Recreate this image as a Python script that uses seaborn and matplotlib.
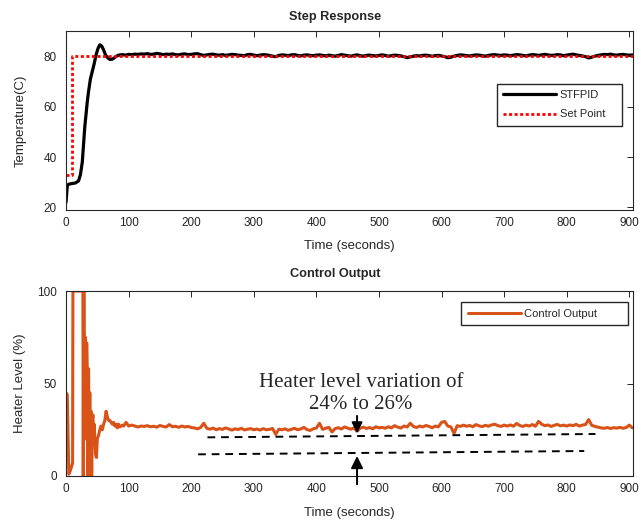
import numpy as np
import pandas as pd
import matplotlib
matplotlib.use('Agg')
import matplotlib.pyplot as plt
import seaborn as sns

# ---- data ----
# step response, first 100 s at irregular sample times
temp_t_early = [0, 2, 4, 6, 10, 15, 20, 23, 26, 28, 30, 32, 34, 36, 39, 42, 45, 48, 51, 54,
                57, 60, 63, 66, 70, 74, 78, 82, 86, 90, 95, 100]
temp_v_early = [22, 28.5, 29.2, 29.3, 29.5, 29.7, 30.5, 33, 38, 45, 52, 57, 62, 66, 71, 74, 77, 80.5, 83, 84.5,
                84, 82.5, 80.5, 79.5, 78.7, 78.8, 79.5, 80.2, 80.5, 80.6, 80.4, 80.7]
# then every 5 s from 105 to 905
temp_v_late = [80.6, 80.8, 80.7, 80.9, 80.8, 81.0, 80.7, 80.8, 81.1, 80.9, 80.6, 80.8, 80.7, 80.9, 80.6, 80.5, 80.8, 80.9, 80.6, 80.7,
               80.9, 81.0, 80.6, 80.3, 80.5, 80.7, 80.8, 80.5, 80.4, 80.6, 80.3, 80.5, 80.7, 80.6, 80.4, 80.3, 80.2, 80.6, 80.7, 80.4,
               80.2, 80.4, 80.6, 80.5, 80.3, 80.0, 79.8, 80.3, 80.5, 80.4, 80.2, 80.5, 80.6, 80.3, 80.1, 80.4, 80.5, 80.3, 80.2, 80.4,
               80.5, 80.3, 80.1, 80.4, 80.2, 80.0, 80.3, 80.6, 80.4, 80.2, 80.0, 80.3, 80.5, 80.2, 80.0, 80.3, 80.4, 80.2, 80.1, 80.3,
               80.5, 80.3, 80.0, 80.2, 80.4, 80.3, 80.1, 79.8, 79.4, 79.7, 80.0, 80.2, 80.1, 80.3, 80.4, 80.2, 80.0, 80.2, 80.3, 80.1,
               79.8, 79.4, 79.6, 80.0, 80.3, 80.5, 80.4, 80.2, 80.1, 80.3, 80.5, 80.4, 80.2, 80.0, 80.3, 80.5, 80.6, 80.4, 80.3, 80.5,
               80.4, 80.2, 80.4, 80.6, 80.5, 80.3, 80.1, 80.4, 80.6, 80.5, 80.3, 80.5, 80.7, 80.5, 80.3, 80.4, 80.6, 80.5, 80.2, 80.4,
               80.6, 80.8, 80.5, 80.3, 80.1, 79.8, 79.3, 79.6, 80.0, 80.3, 80.5, 80.7, 80.6, 80.8, 80.5, 80.4, 80.6, 80.7, 80.5, 80.4,
               80.5]

# set point
sp_t = [0, 10, 10, 906]
sp_v = [33, 33, 80, 80]

# control output, first 100 s
ctrl_t_early = [0, 2, 4.5, 7, 9.5, 10.5, 11, 27, 27.5, 28.5, 29.5, 31, 32, 33, 34, 35, 36, 37, 38, 39,
                40, 41, 42, 43, 44, 45, 47, 48.5, 50, 52, 54, 56, 58, 60, 62, 64, 66, 68, 70, 72,
                74, 76, 78, 80, 82, 84, 86, 88, 90, 92, 94, 96, 98, 100]
ctrl_v_early = [45, 44, 1, 3, 6, 7, 100, 100, 0, 100, 30, 75, 20, 72, 55, 0, 58, 15, 45, 0,
                35, 0, 30, 33, 20, 28, 12, 10, 20, 22, 25, 27, 25, 28, 30, 35, 32, 30, 30, 29,
                28, 29, 27, 28, 26, 28, 26.5, 27, 27.5, 27, 28, 29, 28, 27]
# then every 5 s from 105 to 905
ctrl_v_late = [27.5, 27.0, 26.5, 27.0, 26.8, 27.2, 26.6, 26.9, 26.4, 27.3, 26.8, 26.5, 27.8, 26.6, 26.9, 26.3, 27.0, 26.5, 26.8, 26.2,
               26.0, 25.5, 26.2, 28.5, 25.8, 25.3, 25.9, 25.0, 25.6, 25.2, 26.0, 25.4, 24.8, 25.5, 25.1, 25.8, 24.9, 25.3, 25.6, 25.0,
               25.4, 24.8, 25.6, 25.0, 25.2, 25.7, 22.5, 25.3, 25.0, 25.5, 24.7, 25.2, 25.8, 25.0, 25.4, 26.3, 25.1, 24.6, 25.5, 25.9,
               28.5, 25.2, 25.8, 26.3, 23.8, 25.6, 26.1, 25.4, 26.5, 25.9, 25.3, 26.0, 24.2, 25.8, 26.4, 25.7, 26.2, 25.5, 26.6, 26.0,
               26.3, 25.8, 26.6, 26.0, 27.2, 26.4, 25.9, 27.0, 26.5, 28.5, 26.8, 26.2, 27.0, 26.5, 27.3, 26.8, 26.1, 27.0, 26.6, 29.0,
               29.5, 27.0, 26.5, 23.0, 27.2, 26.8, 27.5, 26.9, 27.3, 26.6, 27.8, 27.1, 26.7, 27.4, 26.9, 27.6, 28.0, 27.2, 26.8, 27.5,
               27.0, 27.6, 26.9, 28.4, 27.3, 26.8, 27.5, 27.0, 27.8, 26.9, 29.5, 28.0, 27.2, 27.6, 26.8, 27.4, 27.9, 27.1, 27.5, 27.0,
               27.6, 27.2, 27.9, 27.0, 27.5, 27.8, 30.5, 27.4, 26.8, 26.4, 26.0, 25.8, 26.2, 25.7, 26.1, 25.9, 26.3, 25.8, 26.2, 27.5,
               26.0]

late_t = list(np.arange(105, 910, 5))

temp_df = pd.DataFrame({'t': temp_t_early + late_t, 'v': temp_v_early + temp_v_late})
sp_df = pd.DataFrame({'t': sp_t, 'v': sp_v})
ctrl_df = pd.DataFrame({'t': ctrl_t_early + late_t, 'v': ctrl_v_early + ctrl_v_late})

# ---- style ----
sns.set_style('white')
plt.rcParams['font.family'] = ['Liberation Sans', 'DejaVu Sans']
grey = '#262626'
orange = '#D95319'

fig = plt.figure(figsize=(6.41, 5.21), dpi=100)
ax1 = fig.add_axes([0.103, 0.597, 0.8846, 0.3436])
ax2 = fig.add_axes([0.103, 0.0864, 0.8846, 0.355])


def matlab_axes(ax):
    for s in ax.spines.values():
        s.set_color(grey)
        s.set_linewidth(0.8)
        s.set_visible(True)
    ax.tick_params(direction='in', length=4, width=0.7, colors=grey, labelsize=8.5,
                   top=True, right=True, pad=5)
    ax.tick_params(axis='y', pad=6.5)
    ax.set_xlim(0, 906)
    ax.set_xticks(range(0, 1000, 100))


# step response
sns.lineplot(data=temp_df, x='t', y='v', ax=ax1, color='black', linewidth=2.3,
             estimator=None, sort=False, label='STFPID')
sns.lineplot(data=sp_df, x='t', y='v', ax=ax1, color='red', linewidth=2.0,
             estimator=None, sort=False, label='Set Point', linestyle=(0, (1.1, 0.9)))
matlab_axes(ax1)
ax1.set_ylim(19, 90)
ax1.set_yticks([20, 40, 60, 80])
ax1.set_title('Step Response', fontsize=9.2, fontweight='bold', x=0.474, pad=8)
ax1.set_xlabel('Time (seconds)', fontsize=9.5, color=grey, labelpad=8)
ax1.set_ylabel('Temperature(C)', fontsize=9.5, color=grey, labelpad=12)
ax1.legend(loc='upper left', bbox_to_anchor=(0.760, 0.464, 0.2205, 0.24), mode='expand',
           fontsize=8, handlelength=4.8, handletextpad=0.3, labelspacing=0.85, borderpad=0.55,
           fancybox=False, edgecolor=grey, framealpha=1, borderaxespad=0)

# control output
sns.lineplot(data=ctrl_df, x='t', y='v', ax=ax2, color=orange, linewidth=2.2,
             estimator=None, sort=False, label='Control Output')
matlab_axes(ax2)
ax2.set_ylim(0, 100)
ax2.set_yticks([0, 50, 100])
ax2.set_title('Control Output', fontsize=9.2, fontweight='bold', x=0.474, pad=10)
ax2.set_xlabel('Time (seconds)', fontsize=9.5, color=grey, labelpad=8.5)
ax2.set_ylabel('Heater Level (%)', fontsize=9.5, color=grey, labelpad=8)
ax2.legend(loc='upper left', bbox_to_anchor=(0.6966, 0.8165, 0.2945, 0.124), mode='expand',
           fontsize=8, handlelength=4.8, handletextpad=0.3, borderpad=0.6,
           fancybox=False, edgecolor=grey, framealpha=1, borderaxespad=0)

# annotation of the heater band
ax2.plot([226, 846], [20.9, 22.7], color='black', lw=1.4, ls=(0, (4, 3)))
ax2.plot([211, 828], [11.7, 13.5], color='black', lw=1.4, ls=(0, (4, 3)))
ax2.annotate('', xy=(465, 21.6), xytext=(465, 34),
             arrowprops=dict(arrowstyle='-|>', color='black', lw=1.4, mutation_scale=16))
ax2.annotate('', xy=(465, 12.3), xytext=(465, -6), annotation_clip=False,
             arrowprops=dict(arrowstyle='-|>', color='black', lw=1.4, mutation_scale=18))
ax2.text(471, 44.5, 'Heater level variation of\n24% to 26%', family=['Liberation Serif', 'DejaVu Serif'],
         fontsize=15, ha='center', va='center', linespacing=1.25, multialignment='center')

fig.savefig('out.png', dpi=100)
